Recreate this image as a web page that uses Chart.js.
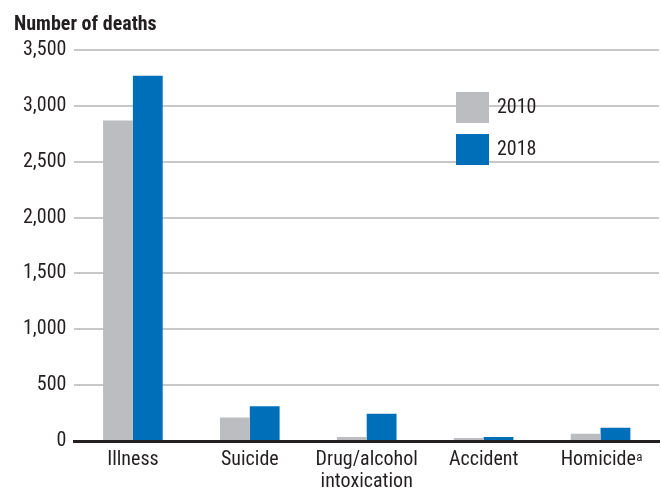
<!DOCTYPE html>
<html>
<head>
<meta charset="utf-8">
<script src="https://cdn.jsdelivr.net/npm/chart.js@4"></script>
<style>
  body { margin: 0; background: #fff; }
  #wrap { width: 661px; height: 493px; position: relative; }
</style>
</head>
<body>
<div id="wrap"><canvas id="myChart"></canvas></div>
<script>
let labels = ['Illness', 'Suicide', ['Drug/alcohol', 'intoxication'], 'Accident', 'Homicide'];
let values2010 = [2870, 210, 36, 27, 64];
let values2018 = [3270, 310, 245, 36, 118];
let yTicks = [0, 500, 1000, 1500, 2000, 2500, 3000, 3500];
let fontFam = '"Liberation Sans Narrow", "Roboto Condensed", "Liberation Sans", sans-serif';

// legend drawn inside the plot, top right
let insideLegend = {
  id: 'insideLegend',
  afterDraw(chart) {
    let c = chart.ctx;
    c.save();
    c.font = '20px ' + fontFam;
    c.textBaseline = 'middle';
    chart.data.datasets.forEach((ds, i) => {
      let y = 92 + i * 42;
      c.fillStyle = ds.backgroundColor;
      c.fillRect(456, y, 33, 31);
      c.fillStyle = '#231f20';
      c.fillText(ds.label, 497, y + 16);
    });
    // title
    c.font = 'bold 20px ' + fontFam;
    c.textBaseline = 'alphabetic';
    c.fillText('Number of deaths', 14, 30);
    // superscript a
    let x = chart.scales.x.getPixelForValue(4);
    c.font = '20px ' + fontFam;
    let w = c.measureText('Homicide').width;
    c.font = '13px ' + fontFam;
    c.fillText('a', x + w / 2 - 2, 461);
    c.restore();
  }
};

let ctx = document.getElementById('myChart').getContext('2d');
let myChart = new Chart(ctx, {
  type: 'bar',
  data: {
    labels: labels,
    datasets: [
      { label: '2010', data: values2010, backgroundColor: '#bcbdc0' },
      { label: '2018', data: values2018, backgroundColor: '#006fba' }
    ]
  },
  options: {
    responsive: true,
    maintainAspectRatio: false,
    animation: false,
    layout: { padding: { top: 50, right: 2, left: 15, bottom: 0 } },
    datasets: { bar: { categoryPercentage: 0.51, barPercentage: 1 } },
    plugins: { legend: { display: false }, tooltip: { enabled: false } },
    scales: {
      x: {
        grid: { display: false },
        border: { color: '#231f20', width: 3 },
        ticks: { color: '#231f20', font: { family: fontFam, size: 20, lineHeight: 1.1 }, maxRotation: 0, padding: 0,
          callback: function (v, i) { return labels[i] === 'Homicide' ? 'Homicide ' : labels[i]; } }
      },
      y: {
        min: 0, max: 3500,
        afterBuildTicks: (s) => { s.ticks = yTicks.map(v => ({ value: v })); },
        grid: { color: '#c8c8c8', lineWidth: 2, drawTicks: false },
        border: { display: false },
        ticks: { color: '#231f20', font: { family: fontFam, size: 20 }, padding: 8,
          callback: (v) => v.toLocaleString('en-US') }
      }
    }
  },
  plugins: [insideLegend]
});
</script>
</body>
</html>
